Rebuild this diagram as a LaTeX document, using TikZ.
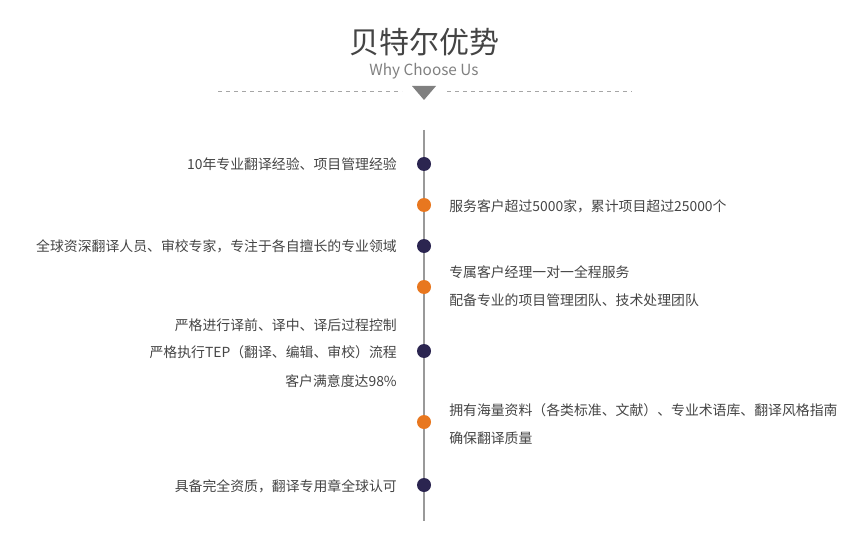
\documentclass[tikz,border=0pt]{standalone}
\usepackage{fontspec}
\setmainfont{Noto Sans CJK SC}
\definecolor{textgray}{HTML}{444444}
\definecolor{navy}{HTML}{2B2550}
\definecolor{amber}{HTML}{E8771F}
\begin{document}
\begin{tikzpicture}
    [x=0.75pt,y=-0.75pt,
     lefttext/.style={anchor=east,font=\fontsize{10.4}{12}\selectfont,text=textgray,inner sep=0pt},
     righttext/.style={anchor=west,font=\fontsize{10.4}{12}\selectfont,text=textgray,inner sep=0pt},
     navydot/.style={circle,fill=navy,minimum size=10.5pt,inner sep=0pt},
     amberdot/.style={circle,fill=amber,minimum size=10.5pt,inner sep=0pt}]
    \useasboundingbox (0,0) rectangle (848,552);
    % heading
    \node (TITLE) at (424,42) {\fontsize{22.5}{24}\selectfont\color{textgray}贝特尔优势};
    \node (SUBTITLE) at (424,71) {\fontsize{11.5}{13}\selectfont\color{gray}Why Choose Us};
    \draw[gray!70,dashed] (218,91) -- (402,91);
    \draw[gray!70,dashed] (447,91) -- (632,91);
    \fill[gray] (412,86) -- (436,86) -- (424,100) -- cycle;
    % axis
    \coordinate (TOP) at (424,130);
    \coordinate (BOTTOM) at (424,521);
    \draw[gray!80,line width=2.2pt] (TOP) -- (BOTTOM);
    % dots
    \node[navydot] (DOTa) at (424,164) {};
    \node[amberdot] (DOTb) at (424,205) {};
    \node[navydot] (DOTc) at (424,246) {};
    \node[amberdot] (DOTd) at (424,287) {};
    \node[navydot] (DOTe) at (424,351) {};
    \node[amberdot] (DOTf) at (424,422) {};
    \node[navydot] (DOTg) at (424,485) {};
    % left column
    \node[lefttext] (La) at (397,164) {10年专业翻译经验、项目管理经验};
    \node[lefttext] (Lc) at (397,246) {全球资深翻译人员、审校专家，专注于各自擅长的专业领域};
    \node[lefttext] (Le1) at (397,325) {严格进行译前、译中、译后过程控制};
    \node[lefttext] (Le2) at (397,352) {严格执行TEP（翻译、编辑、审校）流程};
    \node[lefttext] (Le3) at (397,381) {客户满意度达98\%};
    \node[lefttext] (Lg) at (397,486) {具备完全资质，翻译专用章全球认可};
    % right column
    \node[righttext] (Rb) at (449,206) {服务客户超过5000家，累计项目超过25000个};
    \node[righttext] (Rd1) at (449,272) {专属客户经理一对一全程服务};
    \node[righttext] (Rd2) at (449,300) {配备专业的项目管理团队、技术处理团队};
    \node[righttext] (Rf1) at (449,410) {拥有海量资料（各类标准、文献）、专业术语库、翻译风格指南};
    \node[righttext] (Rf2) at (449,438) {确保翻译质量};
\end{tikzpicture}
\end{document}
